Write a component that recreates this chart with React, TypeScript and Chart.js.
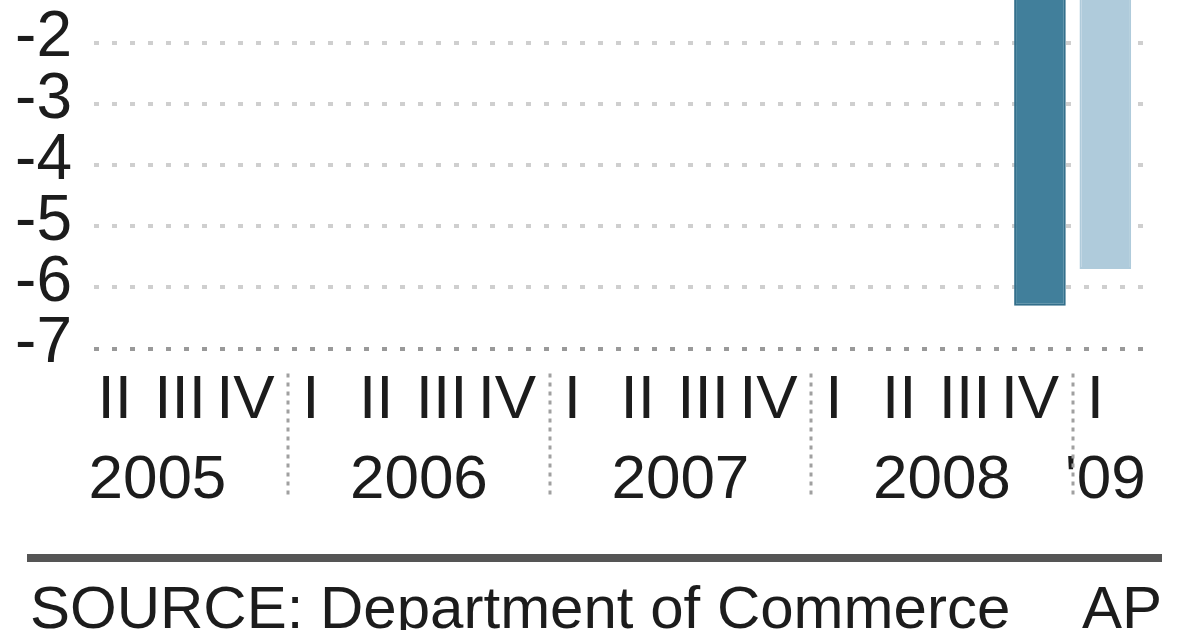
import { useEffect, useRef } from "react";
import Chart from "chart.js/auto";

// quarterly GDP change, annual rate (%), 2005 Q2 .. 2009 Q1
const quarters = ["II", "III", "IV", "I", "II", "III", "IV", "I", "II", "III", "IV", "I", "II", "III", "IV", "I"];
const gdpChange = [2.8, 4.5, 1.2, 4.8, 2.4, 1.1, 2.1, 0.1, 4.8, 4.8, -0.2, 0.9, 2.8, -0.5, -6.3, -5.7];
const isEstimate = [false, false, false, false, false, false, false, false, false, false, false, false, false, false, false, true];

const years = ["2005", "2006", "2007", "2008", "'09"];
// index of first / last quarter of each year (2005 Q1 is outside the crop)
const yearFirst = [-1, 3, 7, 11, 15];
const yearLast = [2, 6, 10, 14, 15];

const yTicks = [-2, -3, -4, -5, -6, -7];
const yMin = -7;
const yMax = -1.3;

const fontFamily = "'Liberation Sans', Arial, Helvetica, sans-serif";
const ink = "#1c1c1c";

const decorPlugin = {
  id: "apDecor",
  beforeDatasetsDraw(chart: any) {
    const { ctx, chartArea, scales } = chart;
    ctx.save();
    yTicks.forEach((v) => {
      const py = Math.round(scales.y.getPixelForValue(v));
      ctx.beginPath();
      ctx.setLineDash([5, 13]);
      ctx.lineWidth = 4;
      ctx.strokeStyle = v === yMin ? "#999999" : "#cfcfcf";
      ctx.moveTo(chartArea.left + 2, py);
      ctx.lineTo(chartArea.right + 14, py);
      ctx.stroke();
    });
    ctx.restore();
  },
  afterDraw(chart: any) {
    const { ctx, chartArea, scales } = chart;
    const x = scales.x;
    ctx.save();
    ctx.fillStyle = ink;

    // y labels
    ctx.font = `64px ${fontFamily}`;
    ctx.textAlign = "right";
    ctx.textBaseline = "middle";
    yTicks.forEach((v) => {
      ctx.fillText(String(v), chartArea.left - 20, scales.y.getPixelForValue(v) - 4);
    });

    // year labels
    ctx.font = `62px ${fontFamily}`;
    ctx.textAlign = "center";
    years.forEach((label, i) => {
      const cx = (x.getPixelForValue(yearFirst[i]) + x.getPixelForValue(yearLast[i])) / 2;
      ctx.fillText(label, cx, chartArea.bottom + 132);
    });

    // dashed separators between years
    ctx.strokeStyle = "#a0a0a0";
    ctx.lineWidth = 3;
    ctx.setLineDash([4, 5]);
    for (let i = 0; i < years.length - 1; i++) {
      const sx = Math.round((x.getPixelForValue(yearLast[i]) + x.getPixelForValue(yearFirst[i + 1])) / 2);
      ctx.beginPath();
      ctx.moveTo(sx, chartArea.bottom + 25);
      ctx.lineTo(sx, chartArea.bottom + 149);
      ctx.stroke();
    }
    ctx.restore();
  },
};

export default function App() {
  const canvasRef = useRef<HTMLCanvasElement>(null);

  useEffect(() => {
    document.body.style.margin = "0";
    if (!canvasRef.current) return;

    const chart = new Chart(canvasRef.current, {
      type: "bar",
      data: {
        labels: quarters,
        datasets: [
          {
            data: gdpChange,
            backgroundColor: isEstimate.map((e) => (e ? "#afcbdb" : "#417f9b")),
            borderColor: isEstimate.map((e) => (e ? "#afcbdb" : "#336f8b")),
            borderWidth: 2,
            barPercentage: 1,
            categoryPercentage: 0.79,
          },
        ],
      },
      options: {
        animation: false,
        responsive: false,
        layout: { padding: { left: 92, right: 62, top: 0, bottom: 177 } },
        plugins: {
          legend: { display: false },
          tooltip: { enabled: false },
        },
        scales: {
          x: {
            grid: { display: false, drawTicks: false },
            border: { display: false },
            ticks: {
              color: ink,
              font: { family: fontFamily, size: 62 },
              padding: 15,
              labelOffset: -10,
              maxRotation: 0,
              autoSkip: false,
            },
          },
          y: {
            display: false,
            min: yMin,
            max: yMax,
          },
        },
      },
      plugins: [decorPlugin],
    });

    return () => {
      chart.destroy();
    };
  }, []);

  return (
    <div style={{ position: "absolute", left: 0, top: 0, width: 1200, height: 630, background: "#fff", overflow: "hidden" }}>
      <canvas ref={canvasRef} width={1200} height={630} style={{ width: 1200, height: 630, display: "block" }}></canvas>
      <div style={{ position: "absolute", left: 27, top: 554, width: 1135, height: 8, background: "#555" }}></div>
      <div
        style={{
          position: "absolute",
          left: 30,
          right: 38,
          top: 578,
          display: "flex",
          justifyContent: "space-between",
          fontFamily: fontFamily,
          fontSize: 60,
          lineHeight: "60px",
          color: ink,
          whiteSpace: "nowrap",
        }}
      >
        <span>SOURCE: Department of Commerce</span>
        <span>AP</span>
      </div>
    </div>
  );
}
